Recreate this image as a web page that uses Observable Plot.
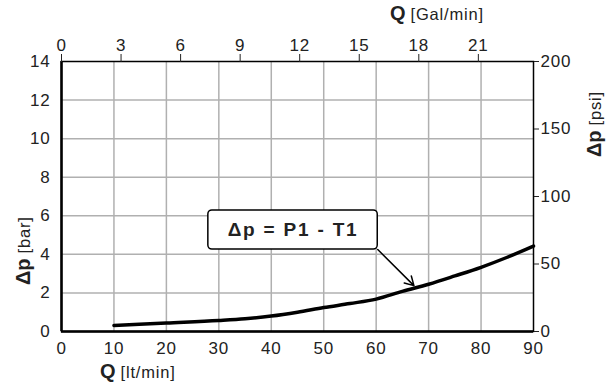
<!DOCTYPE html>
<html>
<head>
<meta charset="utf-8">
<script src="https://cdn.jsdelivr.net/npm/d3@7"></script>
<script src="https://cdn.jsdelivr.net/npm/@observablehq/plot@0.6"></script>
<style>
  html, body { margin: 0; padding: 0; background: #fff; }
  svg { font-family: "Liberation Sans", Arial, sans-serif; }
</style>
</head>
<body>
<div id="chart"></div>
<script>
// Flow in lt/min and pressure drop in bar
const flowLt = [10, 20, 30, 35, 40, 45, 50, 55, 60, 65, 70, 75, 80, 85, 90];
const dpBar  = [0.31, 0.44, 0.57, 0.66, 0.8, 1.0, 1.24, 1.45, 1.68, 2.08, 2.45, 2.88, 3.33, 3.85, 4.43];

const ltTicks  = [0, 10, 20, 30, 40, 50, 60, 70, 80, 90];
const galTicks = [0, 3, 6, 9, 12, 15, 18, 21];
const barTicks = [0, 2, 4, 6, 8, 10, 12, 14];
const psiTicks = [0, 50, 100, 150, 200];
const gridLt   = [10, 20, 30, 40, 50, 60, 70, 80];
const gridBar  = [2, 4, 6, 8, 10, 12];

const LT_PER_GAL = 3.785;
const BAR_PER_PSI = 14 / 200;

const annotation = ["Δp = P1 - T1"];
const boxX = [28, 60.3];
const boxY = [4.25, 6.28];
const arrowFrom = [60.3, 4.25];
const arrowTo = [67.2, 2.38];

const data = flowLt.map((q, i) => ({q, dp: dpBar[i]}));

const plot = Plot.plot({
  width: 607,
  height: 385,
  marginLeft: 61,
  marginRight: 74,
  marginTop: 61,
  marginBottom: 54,
  style: {fontFamily: "'Liberation Sans', Arial, sans-serif", fontSize: "17px", color: "#222", background: "#fff"},
  x: {domain: [0, 90]},
  y: {domain: [0, 14]},
  marks: [
    Plot.gridX(gridLt, {stroke: "#b0b0b0", strokeOpacity: 1, strokeWidth: 1.5}),
    Plot.gridY(gridBar, {stroke: "#b0b0b0", strokeOpacity: 1, strokeWidth: 1.5}),
    Plot.frame({stroke: "#000", strokeWidth: 1.5}),
    Plot.ruleX([0], {stroke: "#000", strokeWidth: 2.5}),
    Plot.ruleY([0], {stroke: "#000", strokeWidth: 2.5}),
    Plot.axisX(ltTicks, {anchor: "bottom", tickSize: 0, tickPadding: 10, label: null, fontSize: 17}),
    Plot.axisX(galTicks.map(g => g * LT_PER_GAL), {anchor: "top", tickSize: 8, tickPadding: 3, label: null, fontSize: 17,
      tickFormat: d => String(Math.round(d / LT_PER_GAL))}),
    Plot.axisY(barTicks, {anchor: "left", tickSize: 0, tickPadding: 11, label: null, fontSize: 17}),
    Plot.axisY(psiTicks.map(p => p * BAR_PER_PSI), {anchor: "right", tickSize: 5, tickPadding: 2, label: null, fontSize: 17,
      tickFormat: d => String(Math.round(d / BAR_PER_PSI))}),
    Plot.line(data, {x: "q", y: "dp", curve: "monotone-x", stroke: "#000", strokeWidth: 3.5}),
    Plot.arrow([0], {x1: () => arrowFrom[0], y1: () => arrowFrom[1], x2: () => arrowTo[0], y2: () => arrowTo[1],
      stroke: "#000", strokeWidth: 1.5, headLength: 10, bend: false}),
    Plot.rect([0], {x1: () => boxX[0], x2: () => boxX[1], y1: () => boxY[0], y2: () => boxY[1],
      fill: "#fff", stroke: "#000", strokeWidth: 1.5, rx: 4}),
    Plot.text(annotation, {x: (boxX[0] + boxX[1]) / 2, y: (boxY[0] + boxY[1]) / 2,
      fontSize: 19, fontWeight: "bold", fill: "#222"})
  ]
});

const svg = d3.select(plot);
svg.selectAll("text").filter(function() { return this.textContent === annotation[0]; })
  .attr("letter-spacing", 1.8);
svg.selectAll("g[aria-label$='tick label'] text").attr("letter-spacing", 0.8);

function addLabel(x, y, big, small, rotate) {
  const t = svg.append("text")
    .attr("transform", `translate(${x},${y})` + (rotate ? " rotate(-90)" : ""))
    .attr("fill", "#222")
    .attr("text-anchor", "start")
    .attr("font-family", "'Liberation Sans', Arial, sans-serif");
  t.append("tspan").attr("font-size", 20).attr("font-weight", "bold").text(big);
  t.append("tspan").attr("font-size", 16.5).attr("letter-spacing", 0.8).attr("dx", 5).text(small);
}
addLabel(100, 378, "Q", "[lt/min]", false);
addLabel(390, 20, "Q", "[Gal/min]", false);
addLabel(30, 285, "Δp", "[bar]", true);
addLabel(601, 157, "Δp", "[psi]", true);

document.getElementById("chart").appendChild(plot);
</script>
</body>
</html>
